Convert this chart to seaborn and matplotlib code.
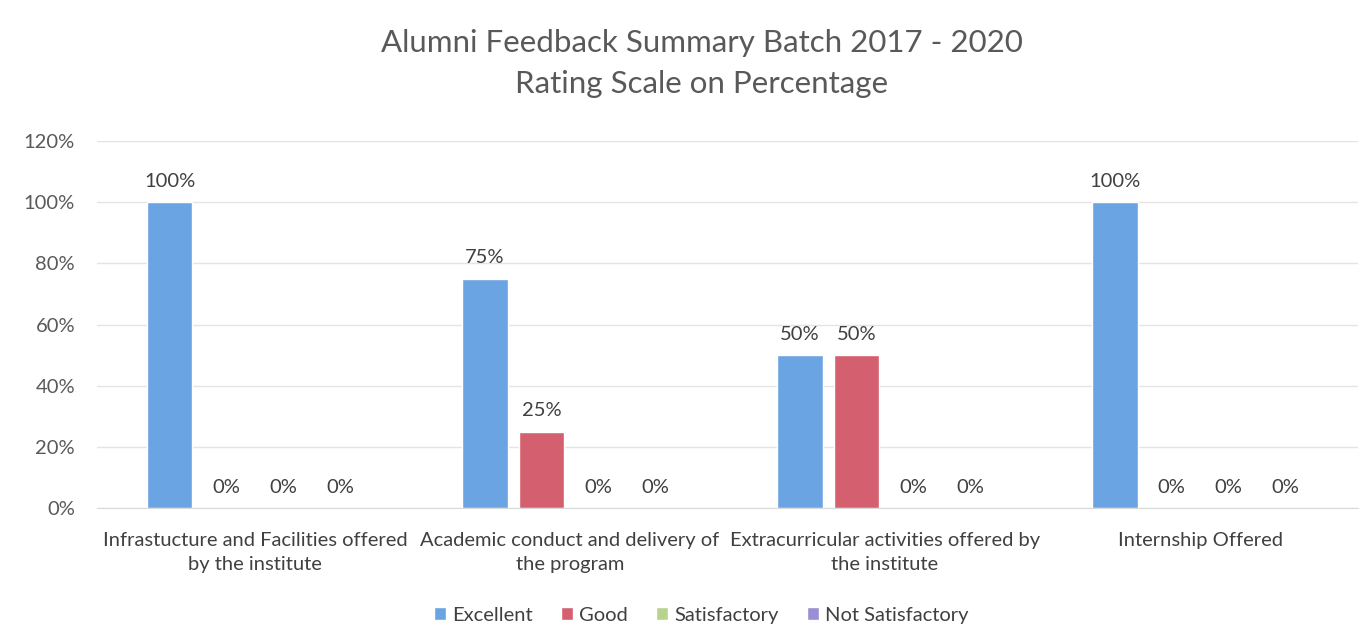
import pandas as pd
import matplotlib.pyplot as plt
import seaborn as sns
from matplotlib.patches import Patch

categories = [
    "Infrastucture and Facilities offered\nby the institute",
    "Academic conduct and delivery of\nthe program",
    "Extracurricular activities offered by\nthe institute",
    "Internship Offered",
]
ratings = ["Excellent", "Good", "Satisfactory", "Not Satisfactory"]
excellent = [100, 75, 50, 100]
good = [0, 25, 50, 0]
satisfactory = [0, 0, 0, 0]
not_satisfactory = [0, 0, 0, 0]
colors = ["#6aa4e2", "#d4606f", "#b8d38d", "#9a8fd4"]

rows = []
for rating, vals in zip(ratings, [excellent, good, satisfactory, not_satisfactory]):
    for cat, v in zip(categories, vals):
        rows.append({"category": cat, "rating": rating, "value": v})
df = pd.DataFrame(rows)

sns.set_style("white")
plt.rcParams["font.family"] = ["Lato", "DejaVu Sans"]
text_col = "#404040"

fig = plt.figure(figsize=(13.7, 6.44), dpi=100)
ax = fig.add_axes([0.071, 0.211, 0.92, 0.570])

sns.barplot(data=df, x="category", y="value", hue="rating", palette=colors,
            saturation=1, width=0.72, gap=0.2, ax=ax, legend=False)

for cont in ax.containers:
    ax.bar_label(cont, labels=[f"{v:.0f}%" for v in cont.datavalues],
                 padding=9, fontsize=14.5, color=text_col)

ax.set_ylim(0, 120)
ax.set_yticks(range(0, 121, 20))
ax.set_yticklabels([f"{t}%" for t in range(0, 121, 20)], fontsize=14.5, color="#595959")
ax.tick_params(axis="x", labelsize=14.5, labelcolor=text_col, pad=17, length=0)
ax.tick_params(axis="y", length=0, pad=16)
for lbl in ax.get_xticklabels():
    lbl.set_linespacing(1.55)
ax.set_xlabel("")
ax.set_ylabel("")
ax.yaxis.grid(True, color="#e4e4e4", linewidth=1)
ax.set_axisbelow(True)
for s in ["top", "right", "left"]:
    ax.spines[s].set_visible(False)
ax.spines["bottom"].set_color("#d9d9d9")

fig.suptitle("Alumni Feedback Summary Batch 2017 - 2020\nRating Scale on Percentage",
             x=0.512, y=0.955, fontsize=22.5, color="#595959", linespacing=1.55)

handles = [Patch(facecolor=c, label=r) for c, r in zip(colors, ratings)]
fig.legend(handles=handles, loc="center", bbox_to_anchor=(0.512, 0.045), ncol=4,
           frameon=False, fontsize=14.5, handlelength=0.6, handleheight=0.6,
           handletextpad=0.3, columnspacing=1.4, labelcolor=text_col)

fig.savefig("out.png", dpi=100)
